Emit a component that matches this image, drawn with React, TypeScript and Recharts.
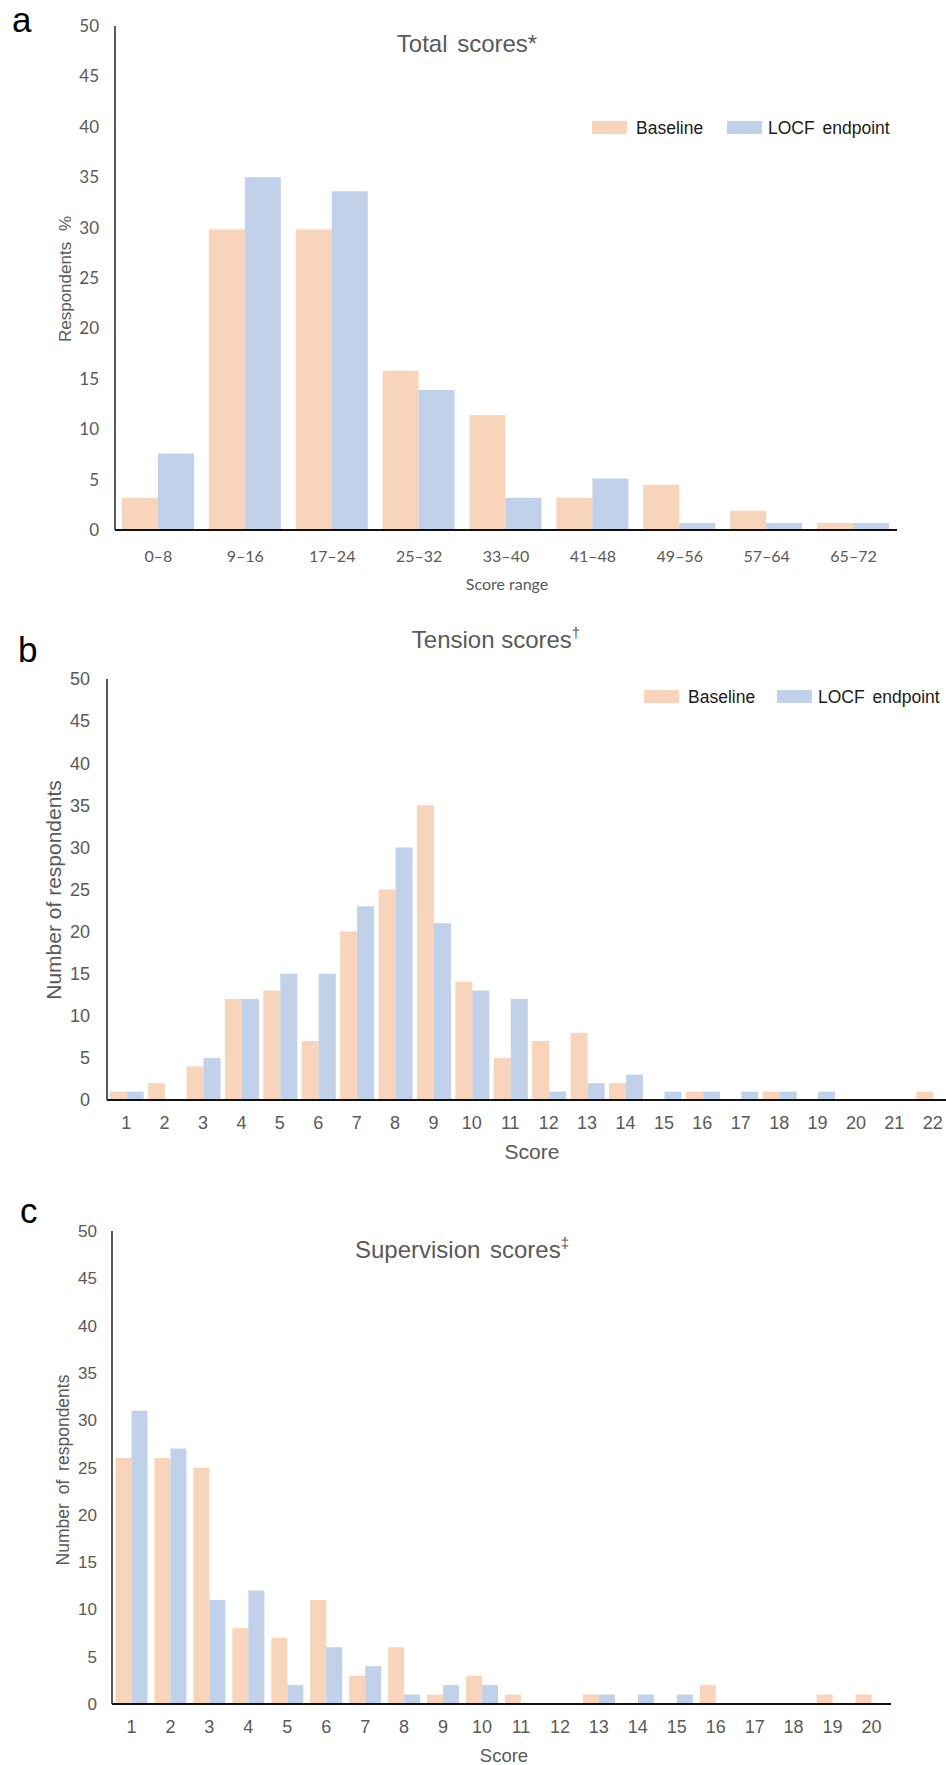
import { BarChart, Bar, XAxis, YAxis } from "recharts"

const BASE_COLOR = "#F8D5BA"
const LOCF_COLOR = "#C1D1EA"
const GREY = "#595959"

const yTicks = [0, 5, 10, 15, 20, 25, 30, 35, 40, 45, 50]

// a: total scores, % of respondents
const totalRanges = ["0–8", "9–16", "17–24", "25–32", "33–40", "41–48", "49–56", "57–64", "65–72"]
const totalBaseline = [3.2, 29.8, 29.8, 15.8, 11.4, 3.2, 4.5, 1.9, 0.7]
const totalLocf = [7.6, 35.0, 33.6, 13.9, 3.2, 5.1, 0.7, 0.7, 0.7]

// b: tension scores, number of respondents
const tensionScores = ["1", "2", "3", "4", "5", "6", "7", "8", "9", "10", "11", "12", "13", "14", "15", "16", "17", "18", "19", "20", "21", "22"]
const tensionBaseline = [1, 2, 4, 12, 13, 7, 20, 25, 35, 14, 5, 7, 8, 2, 0, 1, 0, 1, 0, 0, 0, 1]
const tensionLocf = [1, 0, 5, 12, 15, 15, 23, 30, 21, 13, 12, 1, 2, 3, 1, 1, 1, 1, 1, 0, 0, 0]

// c: supervision scores, number of respondents
const supervisionScores = ["1", "2", "3", "4", "5", "6", "7", "8", "9", "10", "11", "12", "13", "14", "15", "16", "17", "18", "19", "20"]
const supervisionBaseline = [26, 26, 25, 8, 7, 11, 3, 6, 1, 3, 1, 0, 1, 0, 0, 2, 0, 0, 1, 1]
const supervisionLocf = [31, 27, 11, 12, 2, 6, 4, 1, 2, 2, 0, 0, 1, 1, 1, 0, 0, 0, 0, 0]

function toRows(labels: string[], baseline: number[], locf: number[]) {
  return labels.map((label, i) => ({ label, baseline: baseline[i], locf: locf[i] }))
}

interface PanelProps {
  data: { label: string; baseline: number; locf: number }[]
  top: number
  width: number
  height: number
  margin: { top: number; right: number; bottom: number; left: number }
  gap: string
  yAxisWidth: number
  font: string
  yFontSize: number
  xFontSize: number
  yTickMargin: number
  xTickMargin: number
}

function Panel(p: PanelProps) {
  return (
    <div style={{ position: "absolute", left: 0, top: p.top }}>
      <BarChart width={p.width} height={p.height} data={p.data} margin={p.margin} barCategoryGap={p.gap} barGap={0}>
        <XAxis
          dataKey="label"
          interval={0}
          height={40}
          tickLine={false}
          tickSize={0}
          tickMargin={p.xTickMargin}
          axisLine={{ stroke: "#111", strokeWidth: 2 }}
          tick={{ fill: GREY, fontSize: p.xFontSize, fontFamily: p.font }}
        />
        <YAxis
          domain={[0, 50]}
          ticks={yTicks}
          interval={0}
          width={p.yAxisWidth}
          tickLine={false}
          tickSize={0}
          tickMargin={p.yTickMargin}
          axisLine={{ stroke: "#222", strokeWidth: 1.5 }}
          tick={{ fill: GREY, fontSize: p.yFontSize, fontFamily: p.font }}
        />
        <Bar dataKey="baseline" fill={BASE_COLOR} isAnimationActive={false} />
        <Bar dataKey="locf" fill={LOCF_COLOR} isAnimationActive={false} />
      </BarChart>
    </div>
  )
}

function LegendRow({ x, y, swatch2, text2 }: { x: number; y: number; swatch2: number; text2: number }) {
  return (
    <g fontFamily="'Liberation Sans', Arial, sans-serif" fontSize={17.5} fill="#1a1a1a">
      <rect x={x} y={y} width={35} height={13} fill={BASE_COLOR} />
      <text x={x + 44} y={y + 12.5}>Baseline</text>
      <rect x={swatch2} y={y} width={35} height={13} fill={LOCF_COLOR} />
      <text x={text2} y={y + 12.5} wordSpacing={3}>LOCF endpoint</text>
    </g>
  )
}

export default function App() {
  const sans = "'Liberation Sans', Arial, sans-serif"
  return (
    <div style={{ position: "absolute", left: 0, top: 0, width: 946, height: 1765, overflow: "hidden", background: "#fff" }}>
      <Panel
        data={toRows(totalRanges, totalBaseline, totalLocf)}
        top={0}
        width={946}
        height={600}
        margin={{ top: 26, right: 49, bottom: 30, left: 0 }}
        gap="8%"
        yAxisWidth={115}
        font="Lato, 'Open Sans', sans-serif"
        yFontSize={17}
        xFontSize={16}
        yTickMargin={16}
        xTickMargin={21}
      />
      <Panel
        data={toRows(tensionScores, tensionBaseline, tensionLocf)}
        top={600}
        width={1000}
        height={560}
        margin={{ top: 79, right: 48, bottom: 20, left: 0 }}
        gap="7%"
        yAxisWidth={107}
        font={sans}
        yFontSize={18}
        xFontSize={18}
        yTickMargin={17}
        xTickMargin={16}
      />
      <Panel
        data={toRows(supervisionScores, supervisionBaseline, supervisionLocf)}
        top={1160}
        width={946}
        height={605}
        margin={{ top: 71, right: 55, bottom: 21, left: 0 }}
        gap="9%"
        yAxisWidth={112}
        font={sans}
        yFontSize={17}
        xFontSize={18}
        yTickMargin={15}
        xTickMargin={16}
      />

      <svg width={946} height={1765} style={{ position: "absolute", left: 0, top: 0, pointerEvents: "none" }}>
        {/* panel letters */}
        <g fontFamily={sans} fontSize={35} fill="#000">
          <text x={12} y={32}>a</text>
          <text x={18} y={662}>b</text>
          <text x={20} y={1223}>c</text>
        </g>

        {/* titles */}
        <g fontFamily={sans} fill={GREY} textAnchor="middle" fontSize={24}>
          <text x={467} y={52} wordSpacing={3}>Total scores*</text>
          <text x={496} y={648}>
            Tension scores<tspan fontSize={15} dy={-10}>†</tspan>
          </text>
          <text x={462} y={1258} wordSpacing={3}>
            Supervision scores<tspan fontSize={15} dy={-10}>‡</tspan>
          </text>
        </g>

        {/* axis labels */}
        <text x={507} y={590} textAnchor="middle" fontFamily="Lato, 'Open Sans', sans-serif" fontSize={16} fill={GREY}>Score range</text>
        <text x={532} y={1159} textAnchor="middle" fontFamily={sans} fontSize={21} fill={GREY}>Score</text>
        <text x={504} y={1762} textAnchor="middle" fontFamily={sans} fontSize={18.5} fill={GREY}>Score</text>

        <text transform="translate(65,279) rotate(-90)" textAnchor="middle" dominantBaseline="central" fontFamily={sans} fontSize={17} fill={GREY} wordSpacing={6}>Respondents %</text>
        <text transform="translate(53,890) rotate(-90)" textAnchor="middle" dominantBaseline="central" fontFamily={sans} fontSize={21} fill={GREY}>Number of respondents</text>
        <text transform="translate(63,1470) rotate(-90)" textAnchor="middle" dominantBaseline="central" fontFamily={sans} fontSize={17.5} fill={GREY} wordSpacing={4}>Number of respondents</text>

        {/* legends */}
        <LegendRow x={592} y={121} swatch2={727} text2={768} />
        <LegendRow x={644} y={690} swatch2={777} text2={818} />
      </svg>
    </div>
  )
}
